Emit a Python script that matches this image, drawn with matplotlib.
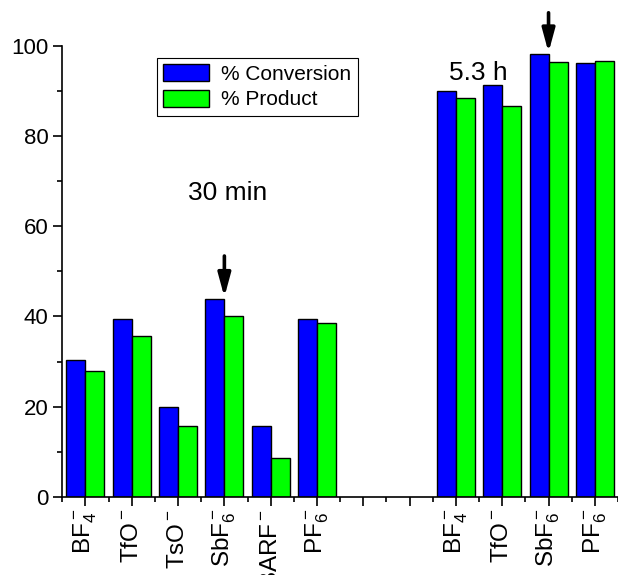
import numpy as np
import matplotlib
matplotlib.use("Agg")
import matplotlib.pyplot as plt
from matplotlib.ticker import MultipleLocator

plt.rcParams['font.family'] = ['Liberation Sans', 'DejaVu Sans']
plt.rcParams['mathtext.fontset'] = 'custom'
plt.rcParams['mathtext.rm'] = 'Liberation Sans'
plt.rcParams['mathtext.it'] = 'Liberation Sans'

# slots 1-6: 30 min, 7-8 empty, 9-12: 5.3 h
positions = [1, 2, 3, 4, 5, 6, 9, 10, 11, 12]
conversion = [30.4, 39.5, 20.0, 43.9, 15.8, 39.5, 90.0, 91.2, 98.2, 96.2]
product = [28.0, 35.7, 15.8, 40.0, 8.7, 38.5, 88.4, 86.7, 96.5, 96.6]
tick_pos = list(range(1, 13))
tick_labels = [r'BF$_4^-$', r'TfO$^-$', r'TsO$^-$', r'SbF$_6^-$', r'BARF$^-$', r'PF$_6^-$',
               '', '',
               r'BF$_4^-$', r'TfO$^-$', r'SbF$_6^-$', r'PF$_6^-$']

fig = plt.figure(figsize=(6.18, 5.75), dpi=100)
ax = fig.add_axes([0.1008, 0.1357, 0.8992, 0.7848])

w = 0.41
x = np.array(positions)
ax.bar(x - w / 2, conversion, w, color='#0000ff', edgecolor='black', linewidth=1,
       label='% Conversion')
ax.bar(x + w / 2, product, w, color='#00ff00', edgecolor='black', linewidth=1,
       label='% Product')

ax.set_xlim(0.5, 12.5)
ax.set_ylim(0, 100)
ax.spines['top'].set_visible(False)
ax.spines['right'].set_visible(False)
ax.spines['left'].set_linewidth(1.2)
ax.spines['bottom'].set_linewidth(1.2)

ax.set_xticks(tick_pos)
ax.set_xticklabels(tick_labels, rotation=90, fontsize=17.5)
ax.xaxis.set_minor_locator(MultipleLocator(0.5))
ax.yaxis.set_major_locator(MultipleLocator(20))
ax.yaxis.set_minor_locator(MultipleLocator(10))
ax.tick_params(axis='y', labelsize=16)
ax.tick_params(axis='x', pad=2)
ax.tick_params(which='major', direction='out', length=6.5, width=1.2)
ax.tick_params(which='minor', direction='out', length=3.6, width=1.2)

leg = ax.legend(loc='upper left', bbox_to_anchor=(0.170, 0.973), borderaxespad=0,
                fontsize=15, fancybox=False, edgecolor='black', framealpha=1,
                handlelength=2.2, handleheight=0.85, labelspacing=0.3,
                borderpad=0.3, handletextpad=0.6)
leg.get_frame().set_linewidth(0.8)

ax.text(4.08, 67.3, '30 min', fontsize=19, ha='center', va='center')
ax.text(9.48, 94.0, '5.3 h', fontsize=19, ha='center', va='center')

arrow = dict(arrowstyle='-|>,head_width=0.38,head_length=1.4', color='black', lw=2.6,
             shrinkA=0, shrinkB=0)
ax.annotate('', xy=(4.0, 44.3), xytext=(4.0, 53.4),
            arrowprops=arrow, annotation_clip=False)
ax.annotate('', xy=(11.0, 98.5), xytext=(11.0, 107.3),
            arrowprops=arrow, annotation_clip=False)

fig.savefig('out.png', dpi=100)
